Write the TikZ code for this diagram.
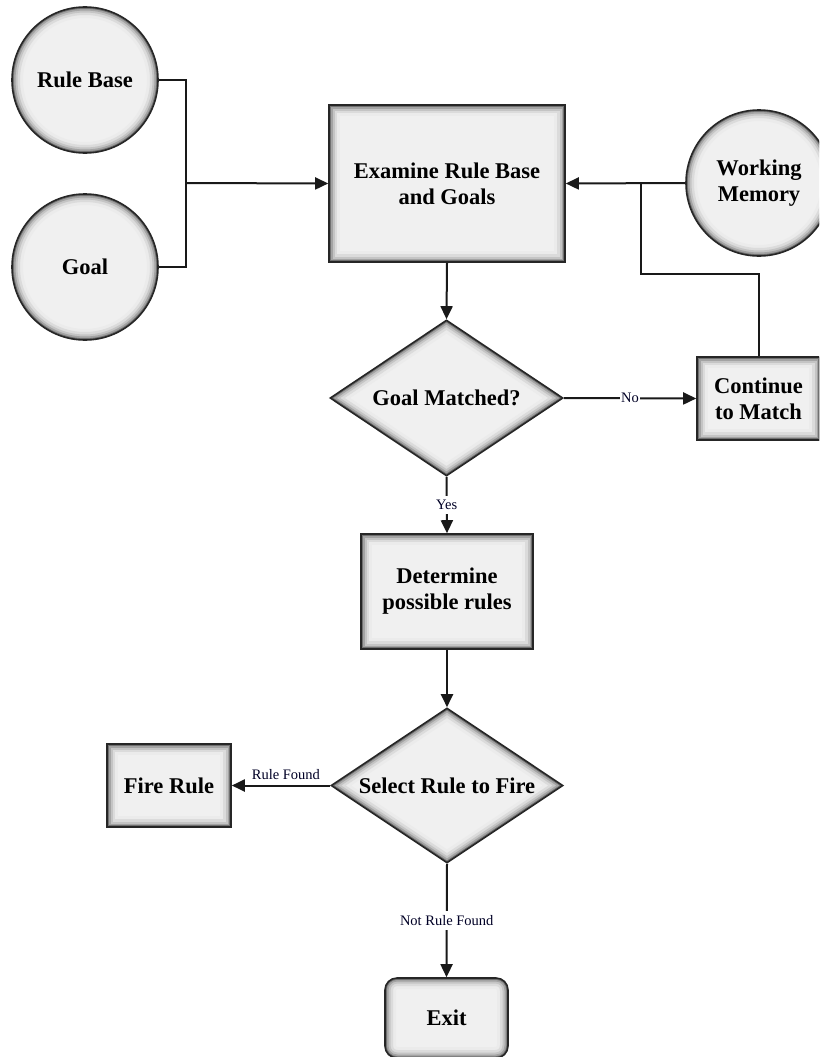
\documentclass[tikz,border=0pt]{standalone}
\usepackage{fontspec}
\setmainfont{Liberation Serif}
\usetikzlibrary{shapes.geometric,arrows.meta}

\tikzset{
  base/.style={draw=black!85, line width=1.6pt, fill=black!6, align=center, inner sep=0pt,
    font=\bfseries\fontsize{22.5}{26}\selectfont},
  % inner shading along the border, drawn as stacked strokes clipped to the shape
  rectglow/.style={path picture={
    \foreach \w/\c in {22/8,16/14,11/23,7/36,3.5/56}{
      \draw[line width=\w pt, black!\c, rounded corners=#1]
        (path picture bounding box.south west) rectangle (path picture bounding box.north east);}}},
  circglow/.style={path picture={
    \foreach \w/\c in {22/8,16/14,11/23,7/36,3.5/56}{
      \draw[line width=\w pt, black!\c]
        (path picture bounding box.center) circle[radius=#1];}}},
  diaglow/.style={path picture={
    \foreach \w/\c in {22/8,16/14,11/23,7/36,3.5/56}{
      \draw[line width=\w pt, black!\c]
        (path picture bounding box.north) -- (path picture bounding box.east) --
        (path picture bounding box.south) -- (path picture bounding box.west) -- cycle;}}},
  procbox/.style 2 args={base, rectangle, minimum width=#1, minimum height=#2, rectglow=0pt},
  roundbox/.style 2 args={base, rectangle, rounded corners=12pt, minimum width=#1, minimum height=#2, rectglow=12pt},
  store/.style={base, circle, minimum size=146pt, circglow=73pt},
  decision/.style 2 args={base, diamond, aspect=1.5, minimum width=#1, minimum height=#2, diaglow},
  conn/.style={draw=black!90, line width=2pt},
  arr/.style={conn, -{Triangle[length=13pt,width=12pt]}},
  lab/.style={font=\fontsize{14.5}{16}\selectfont, text=black!85!blue, inner sep=1.5pt},
  blank/.style={lab, fill=white, inner xsep=1pt, inner ysep=4pt},
}

\begin{document}
\begin{tikzpicture}[x=1pt, y=-1pt]
\useasboundingbox (0,0) rectangle (819,1057);
\clip (0,0) rectangle (819,1057);
\fill[white] (0,0) rectangle (819,1057);

% inputs
\node[store] (rb) at (85,80) {Rule Base};
\node[store] (goal) at (85,267) {Goal};
\node[store] (wm) at (759,183) {Working\\Memory};

% process steps
\node[procbox={236pt}{157pt}] (exam) at (447,183.5) {Examine Rule Base\\and Goals};
\node[decision={233pt}{156pt}] (gm) at (446.5,398) {Goal Matched?};
\node[procbox={123pt}{83pt}] (cont) at (758.5,398.5) {Continue\\to Match};
\node[procbox={172pt}{115pt}] (det) at (447,591.5) {Determine\\possible rules};
\node[decision={232pt}{155pt}] (sel) at (447,785.5) {Select Rule to Fire};
\node[procbox={124pt}{83pt}] (fire) at (169,785.5) {Fire Rule};
\node[roundbox={123pt}{80pt}] (exit) at (446.5,1018) {Exit};

% junction points
\coordinate (j1) at (186,183);
\coordinate (j2) at (641,183);
\coordinate (k) at (641,274);

% connectors
\draw[conn] (rb.east) -| (j1);
\draw[conn] (goal.east) -| (j1);
\draw[arr] (j1) -- (exam.west);
\draw[arr] (wm.west) -- (exam.east);
\draw[conn] (cont.north) |- (k) -- (j2);
\draw[arr] (exam.south) -- (gm.north);
\draw[arr] (gm.east) -- (cont.west);
\draw[arr] (gm.south) -- (det.north);
\draw[arr] (det.south) -- (sel.north);
\draw[arr] (sel.west) -- (fire.east);
\draw[arr] (sel.south) -- (exit.north);

% connector labels, set on white over the lines
\path (gm.east) -- node[blank]{No} (cont.west);
\path (gm.south) -- node[blank]{Yes} (det.north);
\path (sel.west) -- node[lab, above=4pt, pos=0.45]{Rule Found} (fire.east);
\path (sel.south) -- node[blank]{Not Rule Found} (exit.north);
\end{tikzpicture}
\end{document}
